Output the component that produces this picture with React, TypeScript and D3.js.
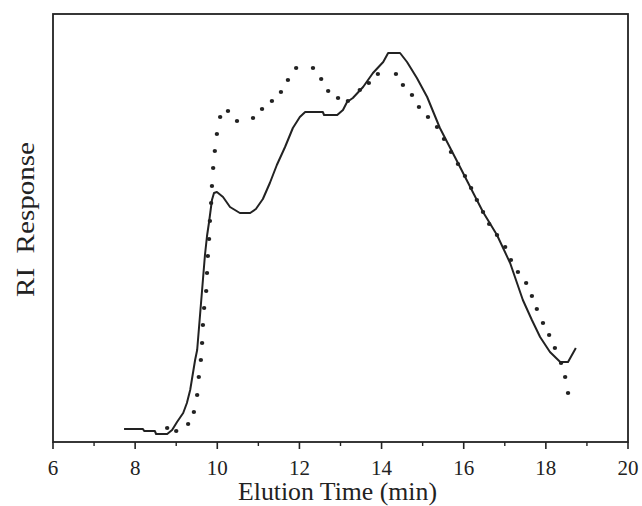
import React from "react";
import * as d3 from "d3";

const xMajorTicks = [6, 8, 10, 12, 14, 16, 18, 20];
const xMinorTicks = [7, 9, 11, 13, 15, 17, 19];

// Sample A (solid line): elution time (min) and RI response (arbitrary units)
const solidTime = [
  7.73, 8.19, 8.22, 8.48, 8.51, 8.78, 8.9, 9.02, 9.17, 9.26, 9.34, 9.38, 9.46, 9.51,
  9.58, 9.65, 9.7, 9.75, 9.8, 9.87, 9.92, 9.99, 10.14, 10.31, 10.55, 10.8, 10.94,
  11.11, 11.28, 11.45, 11.65, 11.84, 12.01, 12.14, 12.57, 12.6, 12.92, 13.06, 13.16,
  13.3, 13.55, 13.79, 14.04, 14.16, 14.45, 14.62, 14.86, 15.11, 15.42, 15.86, 16.32,
  16.47, 16.81, 17.13, 17.44, 17.66, 17.86, 18.1, 18.35, 18.54, 18.73,
];
const solidResponse = [
  13, 13, 11, 11, 8, 8, 12, 20, 29, 39, 52, 62, 82, 92,
  127, 162, 187, 206, 220, 242, 249, 250, 245, 235, 229, 229, 233,
  243, 259, 277, 295, 314, 325, 330, 330, 327, 327, 332, 340,
  344, 355, 369, 380, 389, 389, 380, 364, 345, 314, 279, 242,
  230, 207, 179, 142, 122, 105, 90, 80, 80, 94,
];

// Sample B (dotted line)
const dottedTime = [
  8.78, 9.0, 9.29, 9.43, 9.51, 9.55, 9.6, 9.63, 9.65, 9.68, 9.73, 9.75, 9.77, 9.8,
  9.82, 9.85, 9.87, 9.9, 9.94, 9.99, 10.07, 10.26, 10.48, 10.87, 11.09, 11.33, 11.55,
  11.72, 11.92, 12.33, 12.53, 12.7, 12.94, 13.18, 13.47, 13.69, 13.91, 14.35, 14.52,
  14.74, 14.91, 15.13, 15.35, 15.52, 15.69, 15.86, 16.03, 16.18, 16.32, 16.47, 16.62,
  16.81, 17.01, 17.15, 17.32, 17.52, 17.66, 17.78, 17.93, 18.08, 18.22, 18.37, 18.47,
  18.54,
];
const dottedResponse = [
  14, 11, 18, 30, 47, 65, 82, 99, 117, 134, 151, 169, 186, 203,
  221, 239, 256, 274, 291, 308, 325, 331, 321, 324, 333, 341, 350,
  362, 374, 374, 363, 351, 344, 341, 352, 359, 368, 368, 357,
  347, 335, 325, 315, 303, 290, 278, 266, 254, 242, 230, 218,
  207, 195, 182, 170, 159, 146, 133, 119, 107, 94, 79, 65,
  49,
];

const W = 642;
const H = 506;
const L = 53;
const R = 628;
const T = 14;
const B = 442;
const INK = "#222";
const FONT = "'Liberation Serif', 'Times New Roman', serif";

export default function App() {
  const x = d3.scaleLinear().domain([6, 20]).range([L, R]);
  const y = d3.scaleLinear().domain([0, 428]).range([B, T]);

  const solid = solidTime.map((t, i) => [t, solidResponse[i]] as [number, number]);
  const dotted = dottedTime.map((t, i) => [t, dottedResponse[i]] as [number, number]);

  const line = d3
    .line<[number, number]>()
    .x((d) => x(d[0]))
    .y((d) => y(d[1]))
    .curve(d3.curveLinear);

  const textStyle: React.CSSProperties = { fontFamily: FONT };

  return (
    <svg
      width={W}
      height={H}
      style={{ position: "absolute", left: 0, top: 0, display: "block", background: "#fff" }}
    >
      <rect x={0} y={0} width={W} height={H} fill="#fff" />
      {/* frame */}
      <rect x={L} y={T} width={R - L} height={B - T} fill="none" stroke={INK} strokeWidth={1.8} />
      {/* ticks */}
      {xMajorTicks.map((t) => (
        <line key={"M" + t} x1={x(t)} x2={x(t)} y1={B} y2={B + 7} stroke={INK} strokeWidth={1.6} />
      ))}
      {xMinorTicks.map((t) => (
        <line key={"m" + t} x1={x(t)} x2={x(t)} y1={B} y2={B + 4} stroke={INK} strokeWidth={1.4} />
      ))}
      {xMajorTicks.map((t) => (
        <text
          key={"l" + t}
          x={x(t)}
          y={475}
          textAnchor="middle"
          style={textStyle}
          fontSize={21}
          fill={INK}
        >
          {t}
        </text>
      ))}
      <text
        x={337.5}
        y={500}
        textAnchor="middle"
        style={textStyle}
        fontSize={25}
        fill={INK}
        textLength={199}
        lengthAdjust="spacingAndGlyphs"
      >
        Elution Time (min)
      </text>
      <text
        transform={`translate(34, 219.5) rotate(-90)`}
        textAnchor="middle"
        style={{ ...textStyle, whiteSpace: "pre" }}
        fontSize={25}
        fill={INK}
        textLength={155}
        lengthAdjust="spacingAndGlyphs"
      >
        {"RI  Response"}
      </text>
      {/* solid series */}
      <path d={line(solid) || ""} fill="none" stroke={INK} strokeWidth={2} strokeLinejoin="round" />
      {/* dotted series */}
      {dotted.map((d, i) => (
        <ellipse key={"d" + i} cx={x(d[0])} cy={y(d[1])} rx={2.2} ry={2} fill={INK} />
      ))}
    </svg>
  );
}
